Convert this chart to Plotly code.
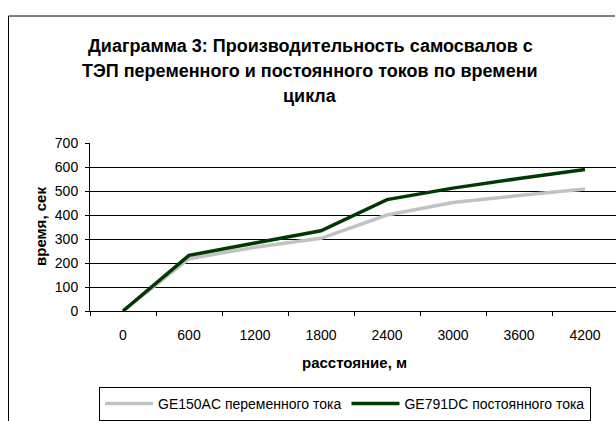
import plotly.graph_objects as go

# Distance categories (m) and cycle times (s)
distance = ["0", "600", "1200", "1800", "2400", "3000", "3600", "4200"]
time_ac = [0, 218, 266, 303, 400, 452, 481, 508]
time_dc = [0, 232, 283, 334, 464, 512, 552, 590]

name_ac = "GE150AC переменного тока"
name_dc = "GE791DC постоянного тока"

title_lines = [
    "Диаграмма 3: Производительность самосвалов с",
    "ТЭП переменного и постоянного токов по времени",
    "цикла",
]

W, H = 616, 421
L, R, T, B = 90, 0, 143, 108
PW, PH = W - L - R, H - T - B
FONT = "Arial, Liberation Sans, sans-serif"
FRAME_TOP = 14.5


def px_x(px):
    return (px - L) / PW


def px_y(py):
    return (H - B - py) / PH


fig = go.Figure()
fig.add_trace(go.Scatter(
    x=distance, y=time_ac, mode="lines", name=name_ac,
    line=dict(color="#c2c2c2", width=3.5),
))
fig.add_trace(go.Scatter(
    x=distance, y=time_dc, mode="lines", name=name_dc,
    line=dict(color="#003a00", width=3.5),
))

annotations = []
for i, line in enumerate(title_lines):
    annotations.append(dict(
        text=f"<b>{line}</b>", xref="paper", yref="paper",
        x=px_x(310), y=px_y(44.5 + i * 25.5), xanchor="center", yanchor="middle",
        showarrow=False, font=dict(family=FONT, size=18, color="#000"),
    ))
annotations.append(dict(
    text="<b>расстояние, м</b>", xref="paper", yref="paper",
    x=px_x(354), y=px_y(365), xanchor="center", yanchor="middle",
    showarrow=False, font=dict(family=FONT, size=15, color="#000"),
))
annotations.append(dict(
    text="<b>время, сек</b>", xref="paper", yref="paper",
    x=px_x(40), y=px_y(228), xanchor="center", yanchor="middle",
    textangle=-90, showarrow=False, font=dict(family=FONT, size=15, color="#000"),
))

# Outer chart frame (left and top edges)
frame = [
    dict(type="line", xref="paper", yref="paper",
         x0=px_x(8.5), x1=px_x(8.5), y0=px_y(H + 5), y1=px_y(FRAME_TOP),
         line=dict(color="#000", width=1)),
    dict(type="line", xref="paper", yref="paper",
         x0=px_x(8.5), x1=px_x(W - 1), y0=px_y(FRAME_TOP), y1=px_y(FRAME_TOP),
         line=dict(color="#000", width=1)),
]

fig.update_layout(
    width=W, height=H,
    margin=dict(l=L, r=R, t=T, b=B),
    paper_bgcolor="white", plot_bgcolor="white",
    font=dict(family=FONT, size=14, color="#000"),
    annotations=annotations,
    shapes=frame,
    legend=dict(
        orientation="h", xref="paper", yref="paper",
        x=px_x(345), y=px_y(390), xanchor="center", yanchor="top",
        bordercolor="#000", borderwidth=1, bgcolor="white",
        font=dict(family=FONT, size=14, color="#000"),
        itemwidth=48, tracegroupgap=0,
    ),
    xaxis=dict(
        type="category", range=[-0.5, -0.5 + PW / 66.0],
        showline=True, linecolor="#000", linewidth=1,
        ticks="outside", tickson="boundaries", ticklen=4, tickcolor="#000",
        showgrid=False, zeroline=False, ticklabelstandoff=11,
        tickfont=dict(family=FONT, size=14, color="#000"),
    ),
    yaxis=dict(
        range=[0, 700], dtick=100,
        showline=True, linecolor="#000", linewidth=1,
        ticks="outside", ticklen=4, tickcolor="#000",
        showgrid=True, gridcolor="#000", gridwidth=1, zeroline=False,
        ticklabelstandoff=4,
        tickfont=dict(family=FONT, size=14, color="#000"),
    ),
)

fig.write_html("out.html", config={"displayModeBar": False})
